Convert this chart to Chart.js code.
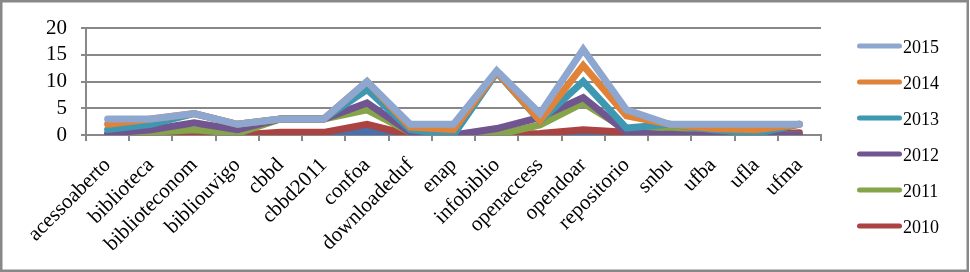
<!DOCTYPE html>
<html>
<head>
<meta charset="utf-8">
<script src="https://cdn.jsdelivr.net/npm/chart.js@4/dist/chart.umd.min.js"></script>
<style>
  html, body { margin: 0; padding: 0; background: #fff; }
  #wrap { position: relative; width: 970px; height: 272px; }
</style>
</head>
<body>
<div id="wrap"><canvas id="graf"></canvas></div>
<script>
// categorias (eixo x)
const categorias = [
    "acessoaberto", "biblioteca", "biblioteconom", "bibliouvigo", "cbbd",
    "cbbd2011", "confoa", "downloadeduf", "enap", "infobiblio",
    "openaccess", "opendoar", "repositorio", "snbu", "ufba", "ufla", "ufma"
];

// valores
const s2015 = [3, 3, 4, 2, 3, 3, 10, 2, 2, 12, 4, 16, 4.7, 2, 2, 2, 2];
const s2014 = [2, 3, 4, 2, 3, 3, 10, 1.5, 1, 11.8, 2.7, 13, 3.6, 2, 1.2, 1, 2];
const s2013 = [1, 2, 4, 2, 3, 3, 8.5, 1, 0, 11.7, 2.6, 10, 1.3, 2, 1, 0.3, 2];
const s2012 = [0.3, 1, 2.3, 1, 3, 3, 6, 0.5, 0, 1.2, 3.3, 7, 0.5, 0, 0, 0, 0];
const s2011 = [0, 0.5, 1, 0.3, 3, 3, 4.7, 0.5, 0, 0, 1.9, 6, 1, 1.5, 0.8, 0, 0];
const s2010 = [0, 0, 0, 0, 0.5, 0.5, 2, 0, 0, 0, 0.3, 1, 0.5, 0, 0, 0, 0.4];
const sAzul = [0, 0.3, 0, 0, 0, 0, 0.7, 0, 0, 0, 0, 0.3, 0, 0.4, 0, 0, 0];

const ticksY = [0, 5, 10, 15, 20];

const cinza = "#888888";
const fonte = "'Liberation Serif', 'Times New Roman', serif";

function serie(label, data, cor) {
    return {
        label,
        data,
        borderColor: cor,
        backgroundColor: cor,
        borderWidth: 7,
        pointRadius: 0,
        tension: 0,
        borderCapStyle: "round",
        clip: 0
    };
}

// legenda desenhada à mão (linha + texto colado)
const legendaPlugin = {
    id: "legenda",
    afterDraw(chart) {
        const ctx = chart.ctx;
        ctx.save();
        let i = 0;
        chart.data.datasets.forEach(ds => {
            if (!ds.label) return;
            const y = 46 + i * 36;
            ctx.strokeStyle = ds.borderColor;
            ctx.lineWidth = 5;
            ctx.lineCap = "round";
            ctx.beginPath();
            ctx.moveTo(859.5, y);
            ctx.lineTo(899.5, y);
            ctx.stroke();
            ctx.fillStyle = "#000";
            ctx.font = "18px " + fonte;
            ctx.textBaseline = "middle";
            ctx.textAlign = "left";
            ctx.fillText(ds.label, 903, y + 2);
            i++;
        });
        ctx.restore();
    }
};

// moldura cinza à volta
const moldura = {
    id: "moldura",
    afterDraw(chart) {
        const ctx = chart.ctx;
        ctx.save();
        ctx.strokeStyle = cinza;
        ctx.lineWidth = 2.5;
        ctx.strokeRect(1.25, 1.25, 966.5, 269.5);
        ctx.restore();
    }
};

new Chart(document.getElementById("graf"), {
    type: "line",
    data: {
        labels: categorias,
        datasets: [
            serie("2015", s2015, "rgb(142,167,208)"),
            serie("2014", s2014, "rgb(224,131,56)"),
            serie("2013", s2013, "rgb(62,152,178)"),
            serie("2012", s2012, "rgb(112,85,145)"),
            serie("2011", s2011, "rgb(134,164,74)"),
            serie("2010", s2010, "rgb(170,67,65)"),
            serie("", sAzul, "rgb(70,113,172)")
        ]
    },
    options: {
        responsive: true,
        maintainAspectRatio: false,
        animation: false,
        layout: { padding: { left: 0, top: 28, right: 149, bottom: 0 } },
        scales: {
            x: {
                type: "category",
                offset: true,
                grid: {
                    offset: true,
                    drawOnChartArea: false,
                    drawTicks: true,
                    tickLength: 6,
                    color: cinza,
                    lineWidth: 2
                },
                border: { display: true, color: cinza, width: 2 },
                ticks: {
                    autoSkip: false,
                    minRotation: 45,
                    maxRotation: 45,
                    color: "#000",
                    padding: 12,
                    font: { family: fonte, size: 21 }
                },
                afterFit(scale) { scale.height = 137; }
            },
            y: {
                min: 0,
                max: 20,
                afterBuildTicks(scale) {
                    scale.ticks = ticksY.map(v => ({ value: v }));
                },
                grid: {
                    color: cinza,
                    lineWidth: 2,
                    drawTicks: true,
                    tickLength: 5
                },
                border: { display: true, color: cinza, width: 2 },
                ticks: {
                    autoSkip: false,
                    color: "#000",
                    padding: 14,
                    font: { family: fonte, size: 21 }
                },
                afterFit(scale) { scale.width = 86; }
            }
        },
        plugins: {
            legend: { display: false },
            tooltip: { enabled: false }
        }
    },
    plugins: [legendaPlugin, moldura]
});
</script>
</body>
</html>
